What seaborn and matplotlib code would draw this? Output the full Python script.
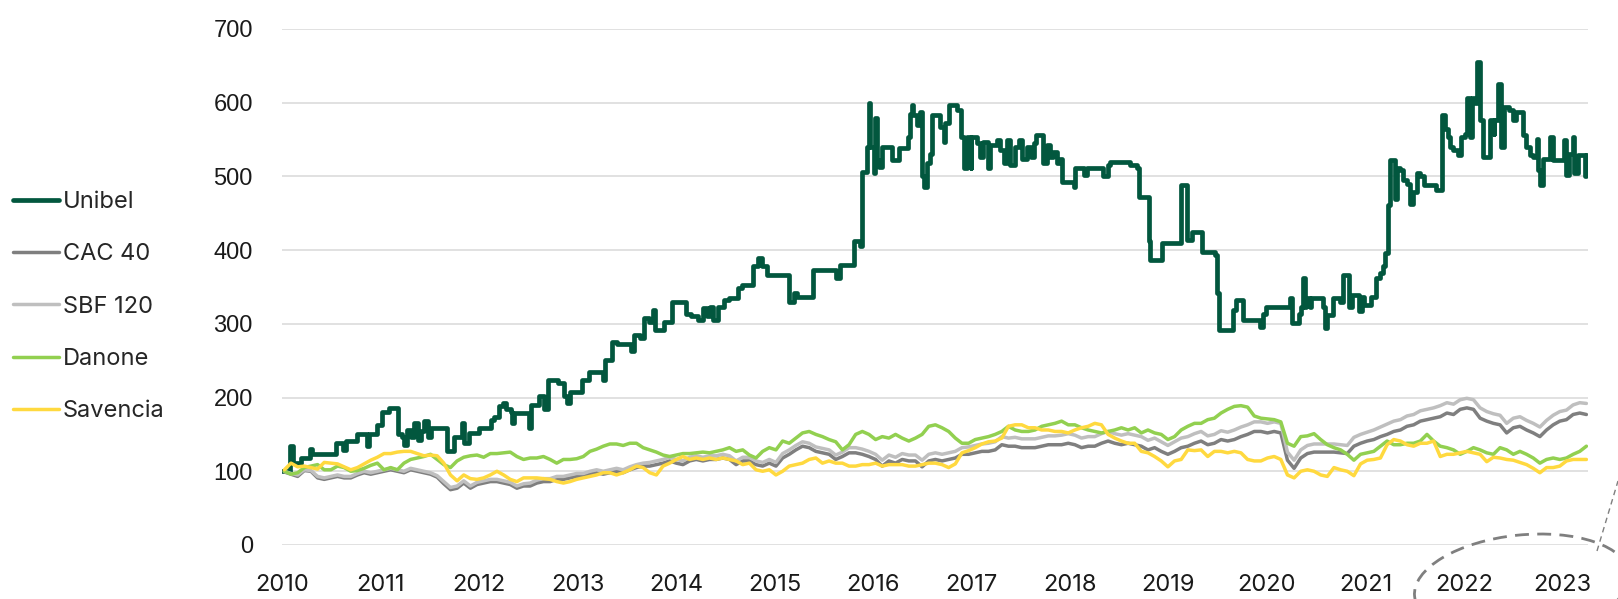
import numpy as np
import pandas as pd
import matplotlib
matplotlib.use('Agg')
import matplotlib.pyplot as plt
import seaborn as sns
from matplotlib.patches import Ellipse
from matplotlib.lines import Line2D
from matplotlib.transforms import IdentityTransform

# Unibel: step levels (decimal year where the level starts, index value)
unibel_dates = [
    2010.00, 2010.08, 2010.11, 2010.19, 2010.28, 2010.30, 2010.55, 2010.62, 2010.65, 2010.76,
    2010.86, 2010.88, 2010.96, 2011.02, 2011.09, 2011.18, 2011.22, 2011.24, 2011.27, 2011.31,
    2011.34, 2011.38, 2011.41, 2011.44, 2011.48, 2011.51, 2011.68, 2011.75, 2011.83, 2011.85,
    2011.90, 2012.00, 2012.12, 2012.15, 2012.20, 2012.24, 2012.27, 2012.32, 2012.34, 2012.36,
    2012.51, 2012.53, 2012.61, 2012.66, 2012.70, 2012.80, 2012.86, 2012.89, 2012.92, 2013.05,
    2013.12, 2013.26, 2013.28, 2013.35, 2013.40, 2013.54, 2013.57, 2013.63, 2013.68, 2013.73,
    2013.77, 2013.79, 2013.88, 2013.96, 2014.10, 2014.15, 2014.22, 2014.27, 2014.31, 2014.35,
    2014.38, 2014.43, 2014.49, 2014.54, 2014.63, 2014.67, 2014.78, 2014.83, 2014.87, 2014.92,
    2015.15, 2015.20, 2015.23, 2015.39, 2015.62, 2015.67, 2015.81, 2015.87, 2015.89, 2015.94,
    2015.96, 2015.97, 2016.01, 2016.02, 2016.04, 2016.06, 2016.09, 2016.19, 2016.26, 2016.36,
    2016.38, 2016.40, 2016.41, 2016.45, 2016.48, 2016.50, 2016.52, 2016.55, 2016.58, 2016.60,
    2016.68, 2016.72, 2016.73, 2016.77, 2016.85, 2016.89, 2016.92, 2016.95, 2016.99, 2017.00,
    2017.06, 2017.09, 2017.12, 2017.17, 2017.19, 2017.26, 2017.29, 2017.33, 2017.36, 2017.39,
    2017.44, 2017.48, 2017.51, 2017.56, 2017.60, 2017.63, 2017.66, 2017.73, 2017.77, 2017.80,
    2017.83, 2017.87, 2017.90, 2017.92, 2018.04, 2018.05, 2018.14, 2018.17, 2018.34, 2018.39,
    2018.41, 2018.61, 2018.68, 2018.70, 2018.80, 2018.81, 2018.93, 2019.13, 2019.19, 2019.24,
    2019.34, 2019.47, 2019.49, 2019.51, 2019.66, 2019.69, 2019.76, 2019.93, 2019.96, 2019.99,
    2020.23, 2020.25, 2020.33, 2020.35, 2020.37, 2020.39, 2020.40, 2020.44, 2020.45, 2020.57,
    2020.59, 2020.61, 2020.67, 2020.74, 2020.77, 2020.83, 2020.86, 2020.93, 2020.96, 2020.99,
    2021.06, 2021.11, 2021.15, 2021.18, 2021.20, 2021.23, 2021.25, 2021.30, 2021.32, 2021.35,
    2021.38, 2021.42, 2021.45, 2021.48, 2021.52, 2021.55, 2021.59, 2021.72, 2021.78, 2021.81,
    2021.84, 2021.86, 2021.89, 2021.94, 2021.97, 2022.01, 2022.03, 2022.06, 2022.08, 2022.11,
    2022.13, 2022.16, 2022.19, 2022.26, 2022.30, 2022.31, 2022.35, 2022.38, 2022.41, 2022.46,
    2022.50, 2022.53, 2022.60, 2022.63, 2022.67, 2022.70, 2022.74, 2022.75, 2022.77, 2022.80,
    2022.87, 2022.90, 2023.02, 2023.04, 2023.07, 2023.11, 2023.12, 2023.16, 2023.23, 2023.24,
    2023.26,
]
unibel_values = [
    100, 134, 111, 118, 130, 123, 138, 129, 141, 150,
    134, 150, 163, 181, 186, 150, 147, 136, 156, 147,
    165, 143, 154, 168, 147, 159, 127, 147, 165, 138,
    152, 159, 170, 174, 188, 193, 184, 181, 165, 179,
    159, 190, 202, 184, 224, 220, 202, 193, 208, 224,
    235, 224, 251, 276, 272, 263, 285, 281, 308, 303,
    319, 292, 303, 330, 314, 310, 305, 321, 310, 323,
    305, 323, 332, 335, 348, 353, 378, 389, 378, 366,
    330, 342, 337, 373, 362, 380, 412, 405, 506, 540,
    599, 540, 504, 579, 522, 513, 540, 522, 538, 554,
    585, 597, 583, 570, 588, 500, 486, 518, 531, 583,
    567, 547, 572, 597, 590, 554, 511, 554, 511, 554,
    545, 527, 547, 511, 542, 549, 536, 518, 549, 515,
    540, 549, 524, 540, 527, 545, 556, 518, 542, 527,
    533, 518, 524, 493, 486, 511, 502, 511, 500, 515,
    520, 515, 511, 472, 412, 387, 409, 488, 414, 425,
    398, 393, 342, 292, 319, 333, 305, 296, 314, 323,
    335, 301, 314, 323, 362, 323, 335, 323, 335, 323,
    294, 312, 335, 330, 366, 323, 339, 317, 337, 326,
    337, 362, 369, 378, 396, 461, 522, 470, 511, 509,
    495, 490, 463, 479, 504, 500, 488, 481, 583, 565,
    554, 540, 536, 529, 554, 558, 606, 554, 606, 599,
    655, 576, 527, 576, 558, 576, 626, 540, 594, 590,
    576, 588, 556, 540, 529, 527, 551, 509, 488, 524,
    554, 522, 549, 502, 531, 554, 504, 529, 500, 529,
    529,
]

# Indices and peers, sampled about every 25 days from 2010 to end of March 2023
index_start = 2010.024
index_end = 2023.243

cac40 = [
    99, 96, 93, 101, 100, 91, 89, 91, 93, 91, 91, 95, 98, 96, 98, 100, 102, 100, 98, 102,
    100, 98, 96, 92, 83, 75, 77, 84, 77, 82, 84, 86, 86, 84, 82, 77, 80, 80, 84, 86,
    86, 89, 89, 91, 93, 93, 96, 98, 96, 98, 100, 98, 102, 105, 107, 107, 109, 111, 114, 111,
    109, 114, 116, 114, 116, 116, 118, 116, 109, 114, 114,
    109, 107, 111, 107, 118, 123, 129, 134, 132, 127, 125, 123, 116, 120, 125, 125, 123, 120, 116, 107,
    114, 111, 116, 114, 114, 106, 114, 116, 114, 116, 118, 123, 123, 125, 127, 127, 129, 136, 134, 134,
    132, 132, 132, 134, 136, 136, 136, 138, 136, 132, 134, 134, 138, 141, 138, 136, 138, 136, 134, 129,
    132, 127, 123, 127, 132, 134, 138,
    141, 136, 138, 143, 141, 143, 147, 150, 154, 154, 152, 154, 152, 115, 104, 118, 124, 126, 126, 126,
    126, 125, 124, 134, 138, 141, 143, 147, 150, 154, 156, 161, 163, 168, 170, 172, 174, 179, 177, 184,
    186, 184, 172, 168, 165, 163, 152, 159, 161, 156, 152, 147, 156, 163, 168, 170, 177, 179, 177,
]
sbf120 = [
    100, 97, 95, 102, 101, 93, 91, 93, 95, 93, 93, 97, 100, 98, 100, 102, 104, 102, 100, 104,
    102, 100, 98, 94, 86, 78, 80, 87, 80, 85, 87, 89, 89, 87, 85, 80, 83, 84, 88, 90,
    90, 93, 93, 95, 97, 97, 100, 102, 100, 102, 104, 102, 106, 109, 111, 112, 114, 116, 119, 116,
    114, 119, 121, 119, 121, 121, 123, 121, 114, 119, 119,
    114, 112, 116, 112, 124, 129, 135, 140, 138, 133, 131, 129, 122, 126, 132, 132, 130, 127, 123, 115,
    122, 119, 124, 122, 122, 115, 123, 125, 123, 125, 127, 132, 133, 135, 137, 138, 140, 147, 145, 146,
    144, 144, 144, 146, 148, 148, 149, 151, 149, 145, 147, 147, 151, 154, 151, 149, 151, 149, 147, 142,
    145, 140, 135, 140, 145, 147, 151,
    154, 148, 150, 155, 153, 156, 160, 163, 167, 167, 165, 167, 165, 126, 115, 129, 135, 137, 137, 137,
    137, 136, 135, 146, 150, 153, 156, 160, 164, 168, 170, 175, 177, 182, 184, 186, 189, 193, 191, 197,
    199, 197, 186, 181, 178, 176, 165, 172, 174, 169, 165, 160, 169, 176, 181, 183, 190, 193, 192,
]
danone = [
    100, 96, 98, 105, 107, 109, 102, 102, 107, 105, 100, 101, 104, 108, 111, 102, 105, 102, 111, 116,
    118, 120, 123, 116, 109, 105, 114, 119, 121, 122, 119, 124, 124, 125, 126, 120, 116, 118, 118, 120,
    116, 111, 116, 116, 117, 120, 127, 130, 134, 137, 137, 135, 138, 138, 132, 129, 126, 122, 120, 122,
    124, 124, 125, 126, 125, 127, 129, 132, 127, 129, 122,
    118, 127, 132, 129, 141, 138, 145, 152, 154, 150, 147, 143, 140, 129, 136, 150, 154, 150, 143, 147,
    145, 150, 145, 141, 145, 150, 161, 163, 159, 154, 145, 138, 138, 143, 145, 147, 150, 154, 161, 156,
    154, 154, 156, 161, 163, 165, 168, 163, 163, 159, 156, 154, 152, 154, 156, 159, 156, 159, 152, 156,
    152, 150, 143, 147, 156, 161, 165,
    165, 170, 172, 179, 184, 188, 189, 187, 175, 172, 171, 170, 167, 138, 134, 147, 148, 151, 143, 136,
    132, 129, 123, 115, 123, 125, 127, 134, 141, 136, 136, 138, 138, 141, 150, 141, 134, 132, 129, 123,
    127, 132, 129, 125, 123, 132, 129, 123, 127, 123, 118, 111, 116, 118, 116, 118, 123, 127, 134,
]
savencia = [
    102, 111, 106, 107, 105, 103, 112, 111, 110, 106, 102, 105, 110, 115, 119, 124, 124, 126, 127, 127,
    124, 121, 122, 121, 111, 95, 87, 95, 90, 89, 91, 95, 100, 95, 89, 86, 91, 91, 91, 90,
    89, 86, 84, 86, 89, 91, 93, 95, 98, 98, 95, 98, 102, 107, 105, 98, 95, 107, 111, 116,
    120, 116, 118, 116, 118, 116, 118, 116, 114, 109, 111,
    102, 100, 102, 95, 100, 107, 109, 111, 116, 118, 111, 114, 111, 111, 107, 107, 109, 109, 111, 107,
    109, 109, 109, 107, 107, 109, 111, 111, 109, 105, 110, 125, 128, 132, 137, 140, 141, 145, 161, 163,
    163, 159, 159, 156, 156, 154, 154, 152, 156, 159, 161, 165, 163, 150, 145, 141, 138, 138, 127, 125,
    120, 114, 106, 114, 116, 129, 128,
    129, 120, 127, 127, 125, 127, 125, 116, 114, 114, 118, 120, 116, 95, 91, 100, 102, 100, 95, 93,
    105, 102, 100, 94, 110, 115, 116, 118, 136, 143, 141, 136, 134, 138, 138, 141, 120, 123, 123, 125,
    127, 125, 123, 113, 119, 118, 116, 115, 112, 109, 104, 98, 105, 105, 107, 114, 116, 116, 116,
]

series_labels = ['Unibel', 'CAC 40', 'SBF 120', 'Danone', 'Savencia']
series_colors = ['#02573E', '#7F7F7F', '#BFBFBF', '#92D050', '#FFD93F']
year_ticks = list(range(2010, 2024))
value_ticks = list(range(0, 800, 100))

sns.set_style('white')
plt.rcParams['font.family'] = ['Inter', 'DejaVu Sans']

fig = plt.figure(figsize=(16.18, 5.99), dpi=100)
ax = fig.add_axes([0.1743, 0.0902, 0.8072, 0.8614])

sns.lineplot(x=unibel_dates, y=unibel_values, drawstyle='steps-post', estimator=None,
             color=series_colors[0], linewidth=3.4, ax=ax, zorder=3)
for vals, col in zip([cac40, sbf120, danone, savencia], series_colors[1:]):
    yrs = np.linspace(index_start, index_end, len(vals))
    sns.lineplot(x=yrs, y=vals, estimator=None, color=col, linewidth=2.5, ax=ax, zorder=4)

ax.set_xlim(2010, 2023.26)
ax.set_ylim(0, 700)
ax.set_xticks(year_ticks)
ax.set_xticklabels([str(y) for y in year_ticks])
ax.set_yticks(value_ticks)
ax.set_xlabel('')
ax.set_ylabel('')
ax.yaxis.grid(True, color='#D9D9D9', linewidth=1.1)
ax.xaxis.grid(False)
ax.set_axisbelow(True)
sns.despine(ax=ax, left=True, bottom=True)
ax.tick_params(axis='both', length=0, labelsize=17, colors='#1A1A1A')
ax.tick_params(axis='x', pad=21)
ax.tick_params(axis='y', pad=21)
for lbl in ax.get_yticklabels():
    lbl.set_fontfamily(['Liberation Sans', 'DejaVu Sans'])

handles = [Line2D([], [], color=c, linewidth=(3.4 if i == 0 else 2.5))
           for i, c in enumerate(series_colors)]
fig.legend(handles, series_labels, loc='center left', bbox_to_anchor=(0.008, 0.488),
           frameon=False, fontsize=17, handlelength=1.95, handletextpad=0.15,
           labelspacing=1.28, borderpad=0, borderaxespad=0)

# dashed call-out around the last two years
ell = Ellipse((1522, 14), 216, 100, angle=6, transform=IdentityTransform(),
              fill=False, edgecolor='#7F7F7F', linewidth=2.0, linestyle=(0, (5, 3)))
fig.add_artist(ell)
fig.add_artist(Line2D([1597, 1618], [48, 118], transform=IdentityTransform(),
                      color='#7F7F7F', linewidth=1.0, linestyle=(0, (4, 3))))

fig.savefig('out.png', dpi=100)
